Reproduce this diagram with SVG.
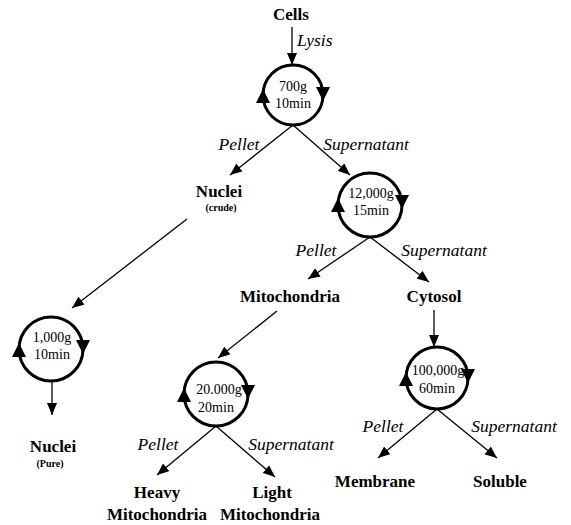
<svg xmlns="http://www.w3.org/2000/svg" xmlns:xlink="http://www.w3.org/1999/xlink" width="571" height="525" viewBox="0 0 571 525">
<style>
text{font-family:'Liberation Serif','Times New Roman','DejaVu Serif',serif;fill:#000;text-anchor:middle}
.b{font-weight:bold;font-size:17px}
.s{font-weight:bold;font-size:10px}
.i{font-style:italic;font-size:17.5px}
.c{font-size:14px}
.ring{fill:#fff;stroke:#000;stroke-width:3}
.ln{stroke:#000;stroke-width:1.3;fill:none;marker-end:url(#ah)}
</style>
<defs>
<marker id="ah" markerUnits="userSpaceOnUse" markerWidth="12" markerHeight="10" refX="12" refY="5" orient="auto">
<path d="M0,0 L12,5 L0,10 Z" fill="#000"/>
</marker>
<path id="up" d="M-7,7 L7,7 L0,-7 Z" fill="#000"/>
<path id="dn" d="M-7,-8 L7,-8 L0,6 Z" fill="#000"/>
</defs>
<rect width="571" height="525" fill="#fff"/>

<g id="connectors">
<line class="ln" x1="292" y1="27" x2="292" y2="65"/>
<line class="ln" x1="293" y1="125" x2="230" y2="175"/>
<line class="ln" x1="293" y1="125" x2="350" y2="175"/>
<line class="ln" x1="370" y1="237" x2="308" y2="279"/>
<line class="ln" x1="370" y1="237" x2="429" y2="282"/>
<line class="ln" x1="187" y1="219" x2="72" y2="308"/>
<line class="ln" x1="52" y1="381" x2="52" y2="415"/>
<line class="ln" x1="277" y1="311" x2="218" y2="358"/>
<line class="ln" x1="216" y1="426" x2="157" y2="475"/>
<line class="ln" x1="216" y1="426" x2="275" y2="477"/>
<line class="ln" x1="434" y1="310" x2="434" y2="347"/>
<line class="ln" x1="437" y1="409" x2="378" y2="458"/>
<line class="ln" x1="437" y1="409" x2="497" y2="458"/>
</g>

<g id="edge-labels" font-family="Liberation Serif, serif">
<text class="i" x="297" y="46" style="text-anchor:start">Lysis</text>
<text class="i" x="239" y="150">Pellet</text>
<text class="i" x="366" y="150">Supernatant</text>
<text class="i" x="316" y="256">Pellet</text>
<text class="i" x="444" y="256">Supernatant</text>
<text class="i" x="158" y="450">Pellet</text>
<text class="i" x="291" y="450">Supernatant</text>
<text class="i" x="383" y="432">Pellet</text>
<text class="i" x="514" y="432">Supernatant</text>
</g>

<g id="cells"><text class="b" x="291" y="20">Cells</text></g>

<g id="spin700">
<circle class="ring" cx="293" cy="95" r="30"/>
<use xlink:href="#up" x="263" y="96"/>
<use xlink:href="#dn" x="323" y="95"/>
<text class="c" x="293" y="91">700g</text>
<text class="c" x="293" y="108">10min</text>
</g>

<g id="nuclei-crude">
<text class="b" x="219" y="197">Nuclei</text>
<text class="s" x="221" y="211">(crude)</text>
</g>

<g id="spin12000">
<circle class="ring" cx="370" cy="205" r="32"/>
<use xlink:href="#up" x="338" y="205"/>
<use xlink:href="#dn" x="402" y="203"/>
<text class="c" x="371" y="198">12,000g</text>
<text class="c" x="371" y="215">15min</text>
</g>

<g id="mitochondria"><text class="b" x="290" y="302">Mitochondria</text></g>
<g id="cytosol"><text class="b" x="434" y="302">Cytosol</text></g>

<g id="spin1000">
<circle class="ring" cx="51" cy="349" r="32"/>
<use xlink:href="#up" x="19" y="350"/>
<use xlink:href="#dn" x="83" y="348"/>
<text class="c" x="52" y="342">1,000g</text>
<text class="c" x="52" y="359">10min</text>
</g>

<g id="nuclei-pure">
<text class="b" x="53" y="452">Nuclei</text>
<text class="s" x="50" y="467">(Pure)</text>
</g>

<g id="spin20000">
<circle class="ring" cx="216" cy="394" r="32"/>
<use xlink:href="#up" x="184" y="395"/>
<use xlink:href="#dn" x="248" y="393"/>
<text class="c" x="219" y="394">20.000g</text>
<text class="c" x="216" y="412">20min</text>
</g>

<g id="heavy">
<text class="b" x="157" y="498">Heavy</text>
<text class="b" x="157" y="520">Mitochondria</text>
</g>
<g id="light">
<text class="b" x="272" y="498">Light</text>
<text class="b" x="270" y="520">Mitochondria</text>
</g>

<g id="spin100000">
<circle class="ring" cx="437" cy="378" r="31"/>
<use xlink:href="#up" x="406" y="379"/>
<use xlink:href="#dn" x="468" y="377"/>
<text class="c" x="438" y="375">100,000g</text>
<text class="c" x="437" y="393">60min</text>
</g>

<g id="membrane"><text class="b" x="375" y="487">Membrane</text></g>
<g id="soluble"><text class="b" x="500" y="487">Soluble</text></g>
</svg>
